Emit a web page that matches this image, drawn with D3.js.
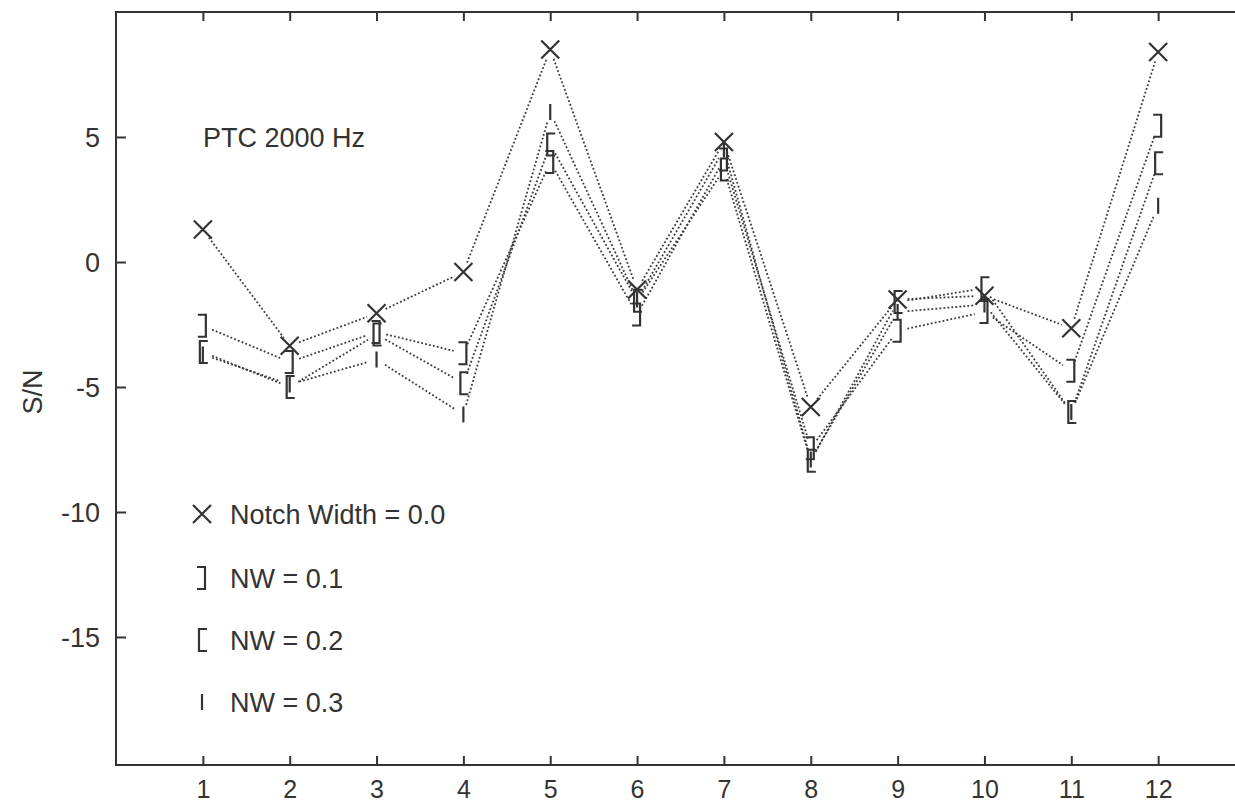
<!DOCTYPE html>
<html><head><meta charset="utf-8">
<script src="https://cdn.jsdelivr.net/npm/d3@7"></script>
<style>body{margin:0;background:#fff;}svg{display:block;}text{font-family:"Liberation Sans",Arial,sans-serif;fill:#333;}</style>
</head><body>
<script>
const categories = [1,2,3,4,5,6,7,8,9,10,11,12];
const nw00 = [1.3, -3.35, -2.05, -0.4, 8.5, -1.1, 4.8, -5.8, -1.5, -1.35, -2.65, 8.4];
const nw01 = [-2.55, -4.0, -2.8, -3.65, 4.0, -2.1, 4.1, -7.45, -2.75, -2.0, -4.35, 5.45];
const nw02 = [-3.6, -5.0, -2.9, -4.85, 4.7, -1.55, 3.7, -7.95, -1.6, -1.05, -6.0, 3.95];
const nw03 = [-3.7, -4.9, -3.9, -6.1, 6.0, -1.5, 4.5, -7.9, -2.0, -1.7, -6.0, 2.25];
const seriesNames = ["Notch Width = 0.0", "NW = 0.1", "NW = 0.2", "NW = 0.3"];
const seriesSymbols = ["x", "rb", "lb", "bar"];
const yTicks = [5, 0, -5, -10, -15];
const xTicks = categories;
const title = "PTC 2000 Hz";
const yLabel = "S/N";

const W = 1235, H = 804;
const FS = "27px";
const svg = d3.select("body").append("svg").attr("width", W).attr("height", H);
const x = d3.scaleLinear().domain([0, 13]).range([116, 1245]);
const y = d3.scaleLinear().domain([-20.12, 10]).range([765, 12]);
const ink = "#333";

// frame
svg.append("rect").attr("x", x(0)).attr("y", y(10)).attr("width", x(13)-x(0)).attr("height", y(-20.12)-y(10))
  .attr("fill", "none").attr("stroke", ink).attr("stroke-width", 2);

// axes with inward ticks
const gB = svg.append("g").attr("transform", `translate(0,${y(-20.12)})`)
  .call(d3.axisBottom(x).tickValues(xTicks).tickSizeInner(-9).tickSizeOuter(0).tickPadding(15).tickFormat(d3.format("d")));
const gT = svg.append("g").attr("transform", `translate(0,${y(10)})`)
  .call(d3.axisTop(x).tickValues(xTicks).tickSizeInner(-9).tickSizeOuter(0).tickFormat(""));
const gL = svg.append("g").attr("transform", `translate(${x(0)},0)`)
  .call(d3.axisLeft(y).tickValues(yTicks).tickSizeInner(-10).tickSizeOuter(0).tickPadding(16).tickFormat(d => d < 0 ? "-" + Math.abs(d) : d));
const gR = svg.append("g").attr("transform", `translate(${x(13)},0)`)
  .call(d3.axisRight(y).tickValues(yTicks).tickSizeInner(-10).tickSizeOuter(0).tickFormat(""));
[gB, gT, gL, gR].forEach(g => {
  g.select(".domain").remove();
  g.selectAll(".tick line").attr("stroke", ink).attr("stroke-width", 2);
  g.selectAll("text").style("font-size", FS).attr("fill", ink);
});
gB.selectAll("text").attr("dy", "0.71em").style("font-size", "25px");
gL.selectAll("text").attr("dy", "0.35em");

// y label
svg.append("text").attr("transform", `translate(42,${y(-5.2)}) rotate(-90)`)
  .attr("text-anchor", "middle").style("font-size", FS).text(yLabel);

// title
svg.append("text").attr("x", 203).attr("y", y(5) + 10).style("font-size", FS).text(title);

const data = [nw00, nw01, nw02, nw03];

// dotted connecting lines with gaps near markers
const gap = 10;
data.forEach((vals, si) => {
  for (let i = 0; i < vals.length - 1; i++) {
    const x1 = x(categories[i]), y1 = y(vals[i]), x2 = x(categories[i+1]), y2 = y(vals[i+1]);
    const dx = x2 - x1, dy = y2 - y1, L = Math.hypot(dx, dy);
    const ux = dx / L, uy = dy / L;
    svg.append("line")
      .attr("x1", x1 + ux*gap).attr("y1", y1 + uy*gap)
      .attr("x2", x2 - ux*gap).attr("y2", y2 - uy*gap)
      .attr("stroke", "#3a3a3a").attr("stroke-width", 1.8).attr("stroke-dasharray", "1.8,2.2");
  }
});

function drawSymbol(g, sym, cx, cy) {
  const p = d3.path();
  if (sym === "x") {
    p.moveTo(cx-9, cy-9); p.lineTo(cx+9, cy+9);
    p.moveTo(cx+9, cy-9); p.lineTo(cx-9, cy+9);
  } else if (sym === "rb") {
    p.moveTo(cx-5, cy-11); p.lineTo(cx+3, cy-11); p.lineTo(cx+3, cy+11); p.lineTo(cx-5, cy+11);
  } else if (sym === "lb") {
    p.moveTo(cx+5, cy-11); p.lineTo(cx-3, cy-11); p.lineTo(cx-3, cy+11); p.lineTo(cx+5, cy+11);
  } else {
    p.moveTo(cx, cy-8); p.lineTo(cx, cy+8);
  }
  g.append("path").attr("d", p.toString()).attr("fill", "none").attr("stroke", ink).attr("stroke-width", 2.2);
}

const gm = svg.append("g");
data.forEach((vals, si) => {
  vals.forEach((v, i) => drawSymbol(gm, seriesSymbols[si], x(categories[i]), y(v)));
});

// legend
const legY = [514, 578, 640, 702];
seriesNames.forEach((name, i) => {
  drawSymbol(svg, seriesSymbols[i], 202, legY[i]);
  svg.append("text").attr("x", 230).attr("y", legY[i] + 10).style("font-size", FS).text(name);
});
</script>
</body></html>
